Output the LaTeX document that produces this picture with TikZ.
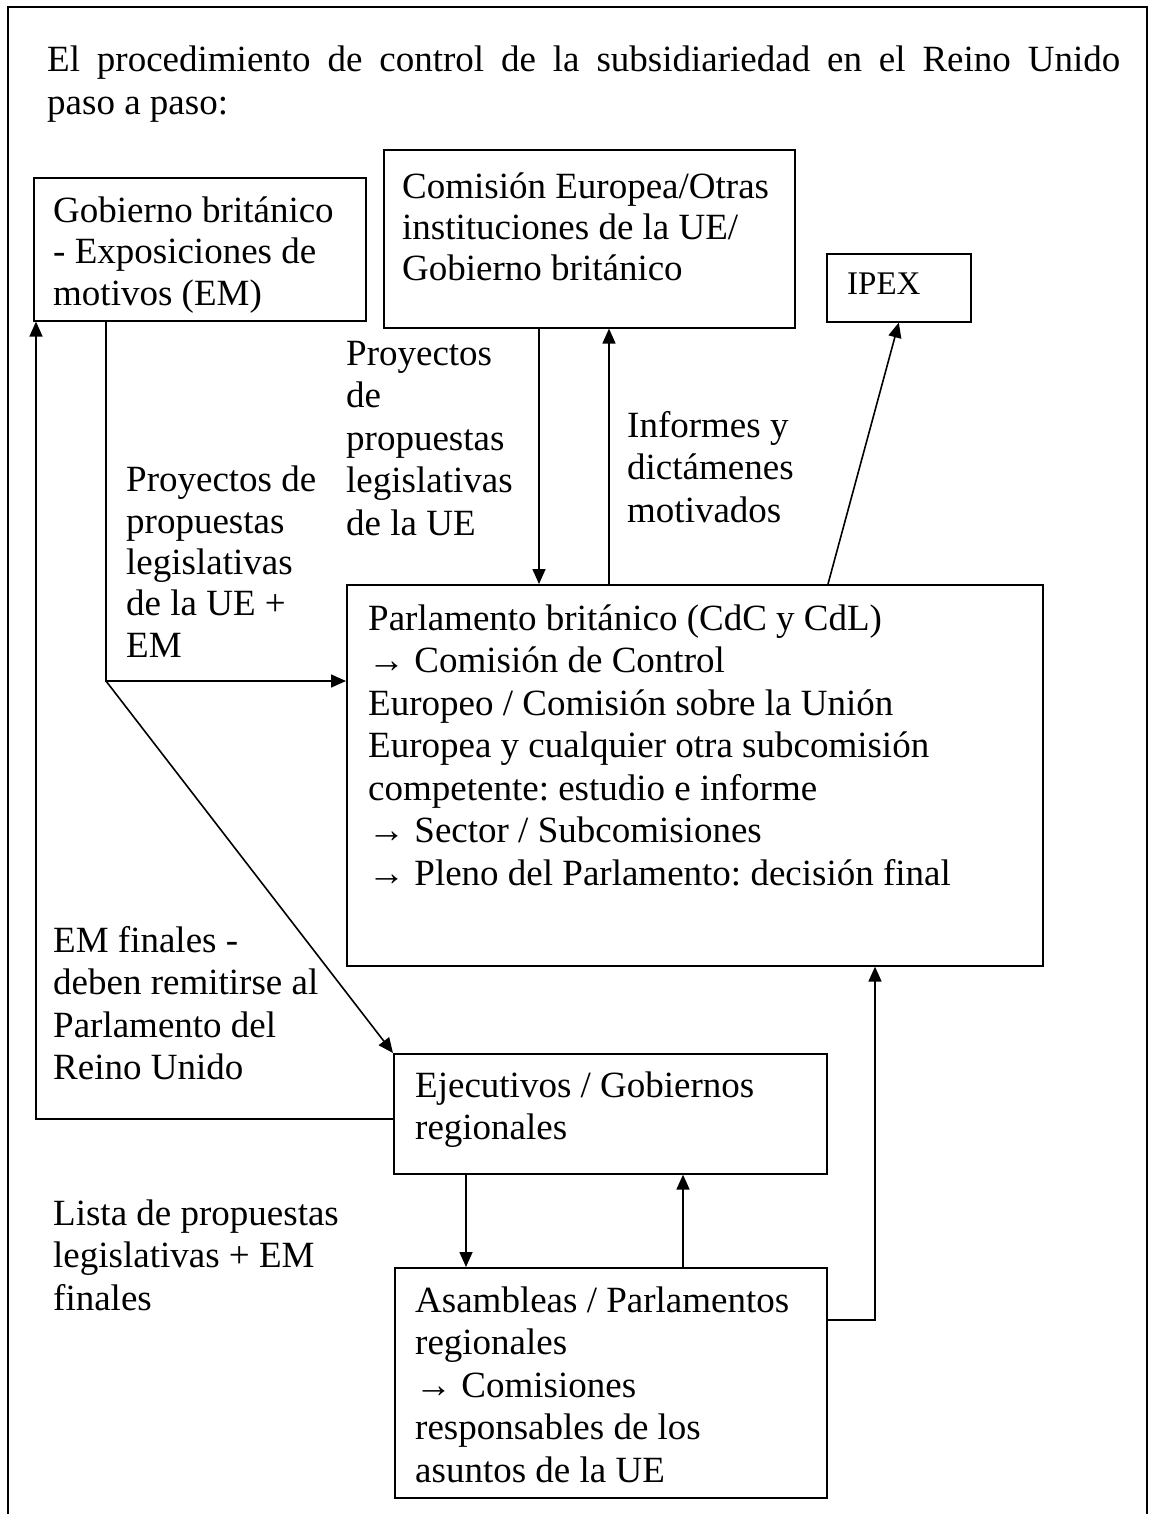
\documentclass[tikz,border=0pt]{standalone}
\usepackage{fontspec}
\setmainfont{Liberation Serif}
\usetikzlibrary{arrows.meta}
\frenchspacing
\begin{document}
\begin{tikzpicture}[x=1pt,y=-1pt,
  box/.style={draw, line width=1.6pt, inner sep=0pt, anchor=north west},
  lbl/.style={inner sep=0pt, anchor=base west, align=left, font=\fontsize{37}{42.5}\selectfont},
  lbltight/.style={lbl, font=\fontsize{37}{41}\selectfont},
  arr/.style={line width=1.6pt, -{Triangle[length=15pt,width=13pt]}},
  ln/.style={line width=1.6pt}]
\useasboundingbox (0,0) rectangle (1154,1514);
% outer frame (open at the bottom)
\draw[ln] (8,1514) -- (8,7) -- (1147,7) -- (1147,1514);

% title (anchor = baseline of the last line)
\node[lbl] (title) at (47,114.5) {\makebox[1073pt][s]{El procedimiento de control de la subsidiariedad en el Reino Unido}\\paso a paso:};

% boxes
\node[box, minimum width=332pt, minimum height=143pt] (gob) at (33,177) {};
\node[box, minimum width=411pt, minimum height=178pt] (com) at (383,149) {};
\node[box, minimum width=144pt, minimum height=68pt] (ipex) at (826,253) {};
\node[box, minimum width=696pt, minimum height=381pt] (parl) at (346,584) {};
\node[box, minimum width=433pt, minimum height=120pt] (eje) at (393,1053) {};
\node[box, minimum width=432pt, minimum height=230pt] (asa) at (394,1267) {};

% box texts (anchor = baseline of the last line)
\node[lbltight] (gobt) at (53,305) {Gobierno británico\\- Exposiciones de\\motivos (EM)};
\node[lbltight] (comt) at (402,280) {Comisión Europea/Otras\\instituciones de la UE/\\Gobierno británico};
\node[inner sep=0pt, anchor=base west, font=\fontsize{33}{38}\selectfont] (ipext) at (847,294) {IPEX};
\node[lbl] (parlt) at (368,885) {Parlamento británico (CdC y CdL)\\→ Comisión de Control\\Europeo / Comisión sobre la Unión\\Europea y cualquier otra subcomisión\\competente: estudio e informe\\→ Sector / Subcomisiones\\→ Pleno del Parlamento: decisión final};
\node[lbl] (ejet) at (415,1139.5) {Ejecutivos / Gobiernos\\regionales};
\node[lbl] (asat) at (415,1482) {Asambleas / Parlamentos\\regionales\\→ Comisiones\\responsables de los\\asuntos de la UE};

% free labels
\node[lbl] (l1) at (346,535) {Proyectos\\de\\propuestas\\legislativas\\de la UE};
\node[lbl, font=\fontsize{37}{41.3}\selectfont] (l2) at (126,657) {Proyectos de\\propuestas\\legislativas\\de la UE +\\EM};
\node[lbl] (l3) at (627,522) {Informes y\\dictámenes\\motivados};
\node[lbl] (l4) at (53,1079.5) {EM finales -\\deben remitirse al\\Parlamento del\\Reino Unido};
\node[lbl] (l5) at (53,1310) {Lista de propuestas\\legislativas + EM\\finales};

% helper coordinates
\coordinate (j) at (106,681);
\coordinate (k) at (36,1119);
\coordinate (cd) at (539,0);
\coordinate (cu) at (609,0);
\coordinate (ip) at (828,0);
\coordinate (ed) at (466,0);
\coordinate (eu) at (683,0);
\coordinate (r) at (875,1320);

% connectors
\draw[arr] (gob.south -| j) -- (j) -- (j -| parl.west);
\draw[arr] (j) -- (eje.north west);
\draw[arr] (eje.west |- k) -- (k) -- (k |- gob.south);
\draw[arr] (com.south -| cd) -- (parl.north -| cd);
\draw[arr] (parl.north -| cu) -- (com.south -| cu);
\draw[arr] (parl.north -| ip) -- (ipex.south);
\draw[arr] (eje.south -| ed) -- (asa.north -| ed);
\draw[arr] (asa.north -| eu) -- (eje.south -| eu);
\draw[arr] (asa.east |- r) -- (r) -- (r |- parl.south);
\end{tikzpicture}
\end{document}
